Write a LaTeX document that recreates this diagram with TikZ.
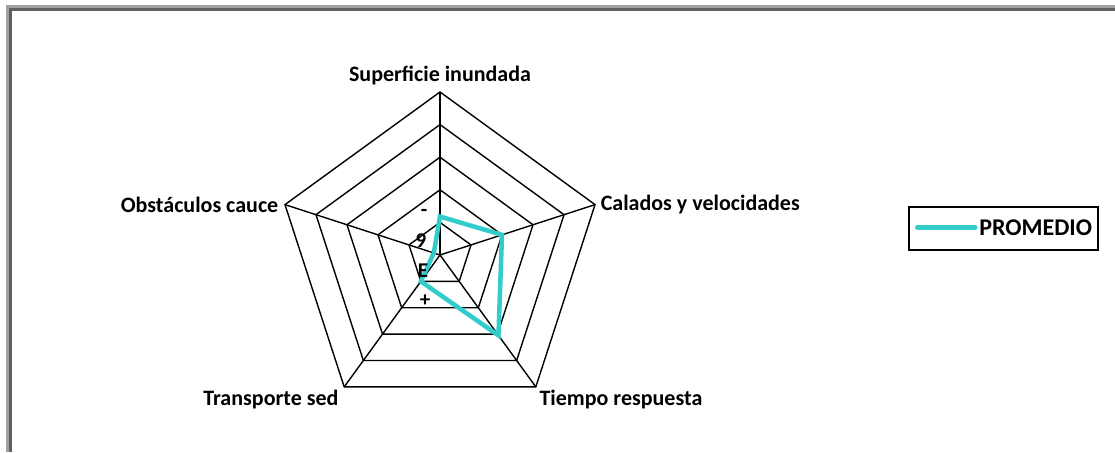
\documentclass[tikz,border=0pt]{standalone}
\usepackage{fontspec}
\setmainfont{Carlito}
\usepackage{tikz}
\usetikzlibrary{positioning}
\usetikzlibrary{calc}
\definecolor{promcol}{HTML}{33CCCC}
\definecolor{framelight}{HTML}{A0A0A0}
\definecolor{framedark}{HTML}{606060}
\tikzset{every picture/.style={line width=1.5pt},
grid/.style={draw=black,line width=1.4pt,line join=miter},
dataline/.style={draw=promcol,line width=4.5pt,line join=miter},
lbl/.style={font=\fontsize{22}{26}\selectfont\bfseries,inner sep=2pt},
tick/.style={font=\fontsize{21}{24}\selectfont\bfseries,inner sep=0pt}}

\begin{document}
\begin{tikzpicture}[x=1pt,y=1pt]
\useasboundingbox (0,0) rectangle (1115,452);
% frame
\fill[framelight] (6,0) rectangle (9,447);
\fill[framelight] (6,444) rectangle (1115,447);
\fill[framedark] (9,0) rectangle (12,444);
\fill[framedark] (9,441) rectangle (1115,444);

\def\u{32.6}
\coordinate (o) at (440,197);
\begin{scope}[shift={(o)}]
\foreach \r in {1, 2, 3, 4, 5} {
\draw[grid] (90:\r*\u) -- (18:\r*\u) -- (-54:\r*\u) -- (-126:\r*\u) -- (162:\r*\u) -- cycle;
}
\foreach \a/\n in {90/1, 18/2, -54/3, -126/4, 162/5} {
\coordinate (v\n) at (\a:5*\u);
\draw[grid] (0,0) -- (v\n);
}
% promedio
\draw[dataline] (90:1.18*\u) -- (18:2*\u) -- (-54:3.05*\u) -- (-126:1*\u) -- (162:0.2*\u) -- cycle;

\node[tick] (t1) at (-16,42) {-};
\node[tick] (t2) at (-19,14) {9};
\node[tick] (t3) at (-17,-16) {E};
\node[tick] (t4) at (-15,-46) {+};
\end{scope}

\node[lbl, above=4pt of v1] (sup) {Superficie inundada};
\node[lbl, right=3pt of v2] (cal) {Calados y velocidades};
\node[lbl, anchor=north west] (tie) at ([xshift=1pt]v3) {Tiempo respuesta};
\node[lbl, anchor=north east] (tra) at ([xshift=-3pt]v4) {Transporte sed};
\node[lbl, left=4pt of v5] (obs) {Obstáculos cauce};

% legend
\node (legend) at (1003.5,223.5) [draw,line width=1.5pt,minimum width=189pt,minimum height=43pt] {};
\draw[dataline,line cap=round] ([xshift=9pt,yshift=1pt]legend.west) -- ++(58,0);
\node[lbl, anchor=east, font=\fontsize{24}{28}\selectfont\bfseries] (prom) at ([xshift=-4pt,yshift=1pt]legend.east) {PROMEDIO};
\end{tikzpicture}
\end{document}
